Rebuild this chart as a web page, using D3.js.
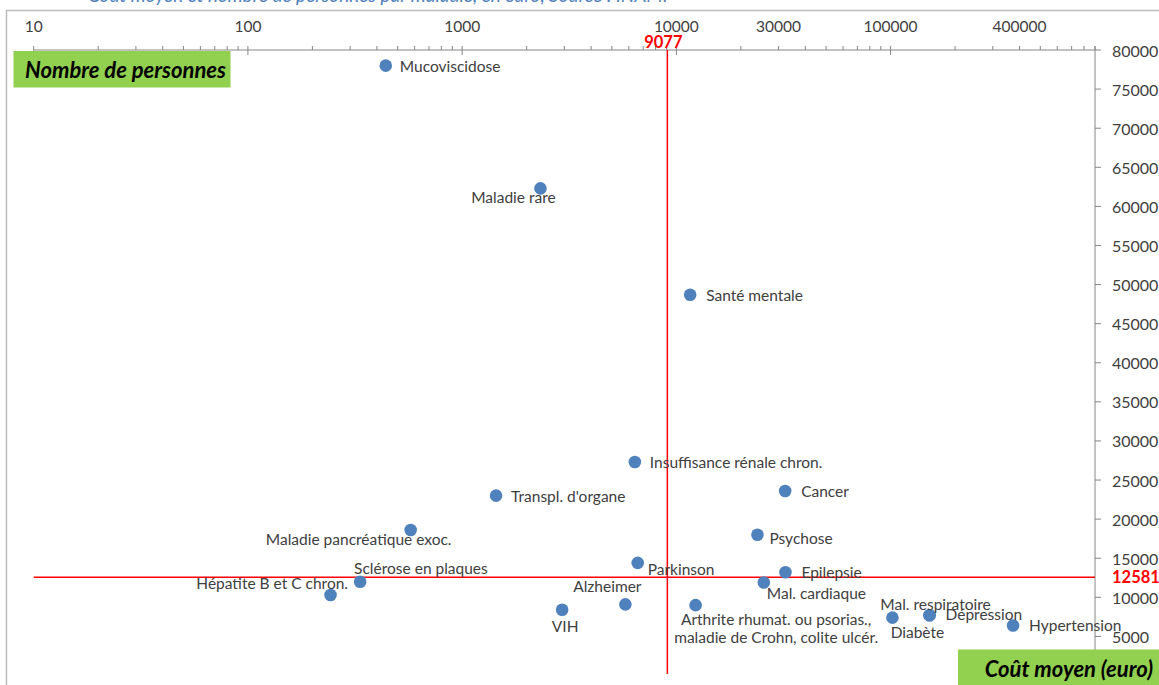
<!DOCTYPE html>
<html>
<head>
<meta charset="utf-8">
<script src="https://cdn.jsdelivr.net/npm/d3@7"></script>
<style>
  body { margin: 0; background: #fff; }
  svg { display: block; }
  text { font-family: Lato, "Open Sans", sans-serif; }
</style>
</head>
<body>
<svg id="chart" width="1159" height="685"></svg>
<script>
// Number of people (log axis) and average cost per person, per condition
const diseases = [
  "Mucoviscidose", "Maladie rare", "Santé mentale", "Insuffisance rénale chron.",
  "Transpl. d'organe", "Cancer", "Maladie pancréatique exoc.", "Psychose",
  "Parkinson", "Epilepsie", "Mal. cardiaque", "Sclérose en plaques",
  "Hépatite B et C chron.", "VIH", "Alzheimer",
  "Arthrite rhumat. ou psorias.,\nmaladie de Crohn, colite ulcér.",
  "Diabète", "Mal. respiratoire", "Dépression", "Hypertension"
];
const patients = [
  440, 2320, 11600, 6400,
  1440, 32200, 575, 23900,
  6600, 32300, 25600, 334,
  243, 2930, 5780,
  12300,
  102000, 152000, 152000, 373000
];
const avgCost = [
  78000, 62300, 48700, 27300,
  23000, 23600, 18600, 18000,
  14400, 13200, 11900, 12000,
  10300, 8400, 9100,
  9000,
  7400, 7700, 7700, 6400
];
const xTickLabels = [10, 100, 1000, 10000, 30000, 100000, 400000];
const yTickValues = d3.range(5000, 80001, 5000);
const medianPatients = 9077;
const medianCost = 12581;
const xTitle = "Nombre de personnes";
const yTitle = "Coût moyen (euro)";

// label placement around each dot: anchor, offset x, offset of text centre y
const labelPlacement = [
  ["start", 14, 0], ["middle", -27, 9], ["start", 16, 0], ["start", 15, 0],
  ["start", 15, 0], ["start", 16, 0], ["middle", -52, 9], ["start", 12, 3],
  ["start", 10, 6], ["start", 16, 0], ["start", 3, 11], ["start", -6, -13.5],
  ["end", 17.5, -11.5], ["middle", 3, 16], ["middle", -18, -18],
  ["middle", 80.5, 13.4],
  ["middle", 25, 14], ["middle", 6, -11], ["start", 16, -1], ["start", 16, 0]
];

const svg = d3.select("#chart");
const W = 1159, H = 685;
const plotLeft = 33.7, plotRight = 1095, plotTop = 50, plotBottom = 675.5;

const x = d3.scaleLog().domain([10, 900000]).range([plotLeft, plotRight]);
const y = d3.scaleLinear().domain([0, 80000]).range([plotBottom, plotTop]);

const axisColor = "#868686";
const textColor = "#404040";

// heading, mostly above the visible frame
svg.append("text")
  .attr("x", 378).attr("y", 1.5)
  .attr("text-anchor", "middle")
  .attr("font-size", 19).attr("font-style", "italic")
  .attr("fill", "#4f81bd")
  .text("Coût moyen et nombre de personnes par maladie, en euro, Source : INAMI");

// outer frame
svg.append("path")
  .attr("d", `M6.5,${H} V10.5 H${W}`)
  .attr("fill", "none").attr("stroke", "#bdbdbd").attr("stroke-width", 1.5);

// top (log) axis
const gx = svg.append("g");
gx.append("line")
  .attr("x1", plotLeft).attr("x2", plotRight).attr("y1", plotTop).attr("y2", plotTop)
  .attr("stroke", axisColor);
const allTicks = [];
for (let e = 1; e <= 5; e++) {
  for (let m = 1; m <= 9; m++) allTicks.push(m * Math.pow(10, e));
}
gx.selectAll("line.tick").data(allTicks).join("line")
  .attr("class", "tick")
  .attr("x1", d => x(d)).attr("x2", d => x(d))
  .attr("y1", plotTop - 4)
  .attr("y2", d => Number.isInteger(Math.log10(d)) ? plotTop + 5 : plotTop)
  .attr("stroke", axisColor);
gx.selectAll("text").data(xTickLabels).join("text")
  .attr("x", d => x(d)).attr("y", 32)
  .attr("text-anchor", "middle")
  .attr("font-size", 15.5).attr("fill", textColor)
  .text(d => d);

// right (linear) axis
const gy = svg.append("g");
gy.append("line")
  .attr("x1", plotRight).attr("x2", plotRight).attr("y1", plotTop - 4).attr("y2", plotBottom)
  .attr("stroke", axisColor);
gy.selectAll("line.tick").data(d3.range(0, 80001, 5000)).join("line")
  .attr("class", "tick")
  .attr("x1", plotRight).attr("x2", plotRight + 6)
  .attr("y1", d => y(d)).attr("y2", d => y(d))
  .attr("stroke", axisColor);
gy.selectAll("text").data(yTickValues).join("text")
  .attr("x", plotRight + 17).attr("y", d => y(d))
  .attr("dominant-baseline", "central")
  .attr("font-size", 16).attr("fill", textColor)
  .text(d => d);

// median cross-hairs
svg.append("line")
  .attr("x1", x(medianPatients)).attr("x2", x(medianPatients))
  .attr("y1", plotTop).attr("y2", 674)
  .attr("stroke", "#ff0000").attr("stroke-width", 1.5);
svg.append("line")
  .attr("x1", plotLeft).attr("x2", plotRight)
  .attr("y1", y(medianCost)).attr("y2", y(medianCost))
  .attr("stroke", "#ff0000").attr("stroke-width", 1.5);

// points
const pts = diseases.map((name, i) => ({ name, n: patients[i], c: avgCost[i], p: labelPlacement[i] }));
svg.append("g").selectAll("circle").data(pts).join("circle")
  .attr("cx", d => x(d.n)).attr("cy", d => y(d.c))
  .attr("r", 6.3)
  .attr("fill", "#4f81bd");

// point labels
const lg = svg.append("g");
pts.forEach(d => {
  const lines = d.name.split("\n");
  const t = lg.append("text")
    .attr("text-anchor", d.p[0])
    .attr("font-size", 15.5).attr("fill", textColor)
    .attr("dominant-baseline", "central");
  lines.forEach((ln, k) => {
    t.append("tspan")
      .attr("x", x(d.n) + d.p[1])
      .attr("y", y(d.c) + d.p[2] + k * 18.4)
      .text(ln);
  });
});

// axis titles in green boxes
svg.append("rect").attr("x", 13.5).attr("y", 51).attr("width", 217).attr("height", 36.5).attr("fill", "#92d050");
svg.append("text").attr("x", 25).attr("y", 69.5)
  .attr("dominant-baseline", "central")
  .attr("font-size", 22).attr("font-weight", "bold").attr("font-style", "italic")
  .attr("fill", "#000").text(xTitle);

svg.append("rect").attr("x", 958).attr("y", 649.5).attr("width", W - 958).attr("height", H - 649.5).attr("fill", "#92d050");
svg.append("text").attr("x", 1153).attr("y", 668)
  .attr("text-anchor", "end").attr("dominant-baseline", "central")
  .attr("font-size", 22).attr("font-weight", "bold").attr("font-style", "italic")
  .attr("fill", "#000").text(yTitle);

// median values
svg.append("text").attr("x", x(medianPatients) - 4).attr("y", 42)
  .attr("text-anchor", "middle").attr("dominant-baseline", "central")
  .attr("font-size", 16.5).attr("font-weight", "bold").attr("fill", "#ff0000")
  .text(medianPatients);
svg.append("text").attr("x", plotRight + 17).attr("y", y(medianCost))
  .attr("dominant-baseline", "central")
  .attr("font-size", 16.5).attr("font-weight", "bold").attr("fill", "#ff0000")
  .text(medianCost);
</script>
</body>
</html>
